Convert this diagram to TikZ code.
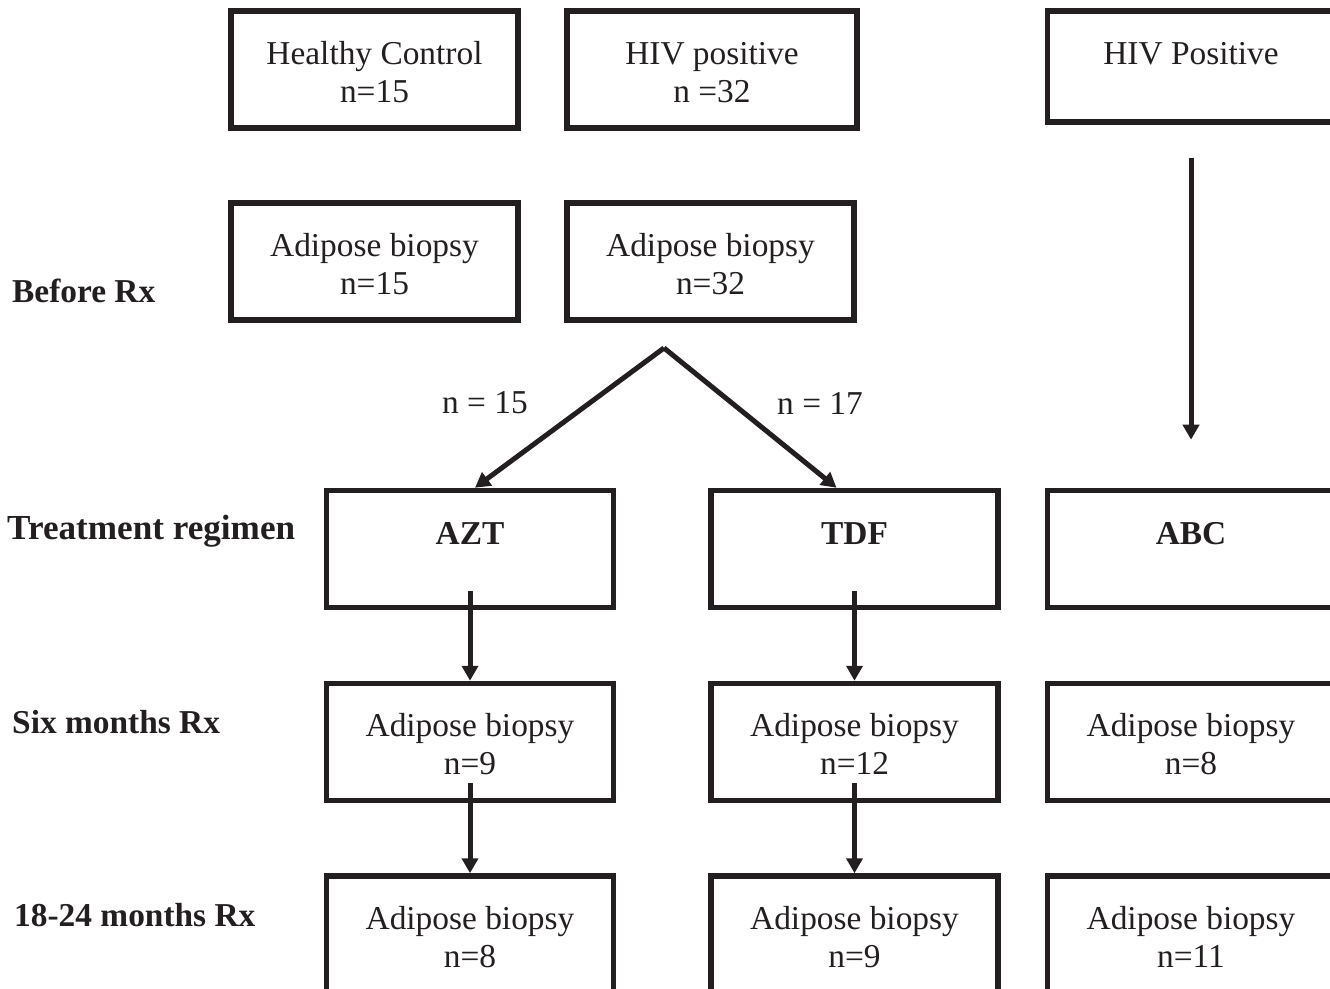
\documentclass[tikz,border=0pt]{standalone}
\usepackage{fontspec}
\setmainfont{Liberation Serif}
\usetikzlibrary{arrows.meta,calc}
\definecolor{ink}{HTML}{231F20}
\newcommand{\flowfont}{\fontsize{19}{21.6}\selectfont}
\newcommand{\topline}{\rule{0pt}{15.6pt}}

\begin{document}
\begin{tikzpicture}[x=0.2mm,y=-0.2mm,
    box/.style={draw=ink, line width=1.1mm, minimum width=57.4mm, minimum height=23.4mm,
                inner sep=0pt, align=center, font=\flowfont, text=ink},
    onebox/.style={box, text height=13pt, text depth=18pt},
    steplbl/.style={anchor=west, font=\flowfont\bfseries, text=ink},
    nlbl/.style={font=\flowfont, text=ink},
    flow/.style={draw=ink, line width=1mm, -{Triangle[length=3mm,width=3.2mm]}}]

    % Page frame
    \clip (0,0) rectangle (1330,989);

    % Top row: study groups
    \node[box] (healthy) at (374.5,69.5) {\topline Healthy Control\\n=15};
    \node[box, minimum width=58mm] (hivpos) at (712,69.5) {\topline HIV positive\\n =32};
    \node[onebox, minimum height=22.2mm, text depth=15.8pt] (hivabc) at (1191,66.5) {HIV Positive};

    % Baseline biopsies
    \node[box] (bxhealthy) at (374.5,261.5) {\topline Adipose biopsy\\n=15};
    \node[box] (bxhiv) at (710.5,261.5) {\topline Adipose biopsy\\n=32};

    % Treatment regimens
    \node[onebox] (azt) at (470,549) {\textbf{AZT}};
    \node[onebox] (tdf) at (854.5,549) {\textbf{TDF}};
    \node[onebox] (abc) at (1191,549) {\textbf{ABC}};

    % Six months
    \node[box] (aztsix) at (470,742) {\topline Adipose biopsy\\n=9};
    \node[box] (tdfsix) at (854.5,742) {\topline Adipose biopsy\\n=12};
    \node[box] (abcsix) at (1191,742) {\topline Adipose biopsy\\n=8};

    % 18-24 months
    \node[box] (aztlate) at (470,934.5) {\topline Adipose biopsy\\n=8};
    \node[box] (tdflate) at (854.5,934.5) {\topline Adipose biopsy\\n=9};
    \node[box] (abclate) at (1191,934.5) {\topline Adipose biopsy\\n=11};

    % Row labels
    \node[steplbl] (before) at (6,291) {Before Rx};
    \node[steplbl] (regimen) at (1,531) {\fontsize{20}{22}\selectfont Treatment regimen};
    \node[steplbl] (six) at (6,722) {Six months Rx};
    \node[steplbl] (late) at (8,915) {18-24 months Rx};

    % Split of the HIV positive group
    \coordinate (split) at (664,348);
    \draw[flow] (split) -- ($(azt.north)+(5,0)$);
    \draw[flow] (split) -- ($(tdf.north)+(-18,0)$);
    \node[nlbl] (nazt) at (485,403) {n = 15};
    \node[nlbl] (ntdf) at (820,403) {n = 17};

    % ABC arm
    \coordinate (abcend) at ($(abc.north)+(0,-48)$);
    \draw[flow] ($(hivabc.south)+(0,33)$) -- (abcend);

    % Follow-up arrows
    \draw[flow] ($(azt.south)+(0,-19)$) -- (aztsix.north);
    \draw[flow] ($(aztsix.south)+(0,-20)$) -- (aztlate.north);
    \draw[flow] ($(tdf.south)+(0,-19)$) -- (tdfsix.north);
    \draw[flow] ($(tdfsix.south)+(0,-20)$) -- (tdflate.north);

\end{tikzpicture}
\end{document}
